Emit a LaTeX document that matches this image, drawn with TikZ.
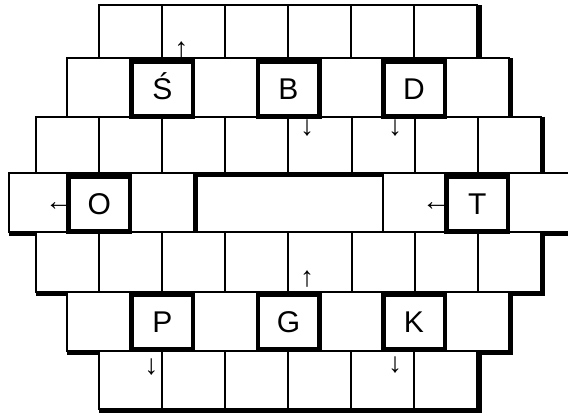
\documentclass[tikz,border=0pt]{standalone}
\usepackage{fontspec}
\setmainfont{Liberation Sans}
\usetikzlibrary{positioning}

\begin{document}
\begin{tikzpicture}[
  x=1pt, y=-1pt,
  cell/.style={line width=2pt},
  shade/.style={line width=4.5pt},
  letter/.style={draw, fill=white, line width=4.5pt,
                 minimum width=61.5pt, minimum height=55pt, inner sep=0pt,
                 font=\fontsize{30}{30}\selectfont,
                 text height=21.5pt, text depth=0pt},
  arr/.style={font=\fontsize{28}{28}\selectfont, inner sep=0pt}
]
\useasboundingbox (0,0) rectangle (568,415);
\clip (0,0) rectangle (568,415);

% full rows: left x / cells / top / bottom
\foreach \x/\n/\t/\b in {98.7/6/5/58.3, 67.3/7/58.3/116.5, 36/8/116.5/173,
                         36/8/232/291.5, 67.3/7/291.5/350.5, 98.7/6/350.5/408.5}
  \foreach \i in {1,...,\n}
    \draw[cell] ({\x+(\i-1)*63.1},\t) rectangle ++(63.1,\b-\t);

% middle row with the gap
\foreach \l/\r in {9/67.3, 130.4/193.5, 193.5/382.8, 382.8/445.9, 509/572}
  \draw[cell] (\l,173) rectangle (\r,232);

% shadow on the outer edge
\draw[shade] (479.3,5) -- (479.3,58.3);
\draw[shade] (511.2,58.3) -- (511.2,116.5);
\draw[shade] (543,116.5) -- (543,173);
\draw[shade] (572,234.2) -- (543,234.2) -- (543,293.7) -- (511.2,293.7)
  -- (511.2,352.7) -- (479.3,352.7) -- (479.3,410.7) -- (98.7,410.7);
\draw[shade] (98.7,352.7) -- (67.3,352.7);
\draw[shade] (67.3,293.7) -- (36,293.7);
\draw[shade] (36,234.2) -- (9,234.2);
% shadow inside the gap
\draw[shade] (195.7,232) -- (195.7,175.2) -- (382.8,175.2);

% letters
\node[letter] (S) at (162.3,89) {Ś};
\node[letter] (B) at (288.5,89) {B};
\node[letter] (D) at (414,89) {D};
\node[letter] (O) at (99.3,204) {O};
\node[letter] (T) at (477.3,204) {T};
\node[letter] (P) at (162.3,322) {P};
\node[letter] (G) at (288.5,322) {G};
\node[letter] (K) at (414,322) {K};

% little arrows
\node[arr, above=1pt of S, xshift=19pt] (arrS) {↑};
\node[arr, below=1pt of B, xshift=18.5pt] (arrB) {↓};
\node[arr, below=1pt of D, xshift=-19pt] (arrD) {↓};
\node[arr, left=-7pt of O, yshift=-3pt] (arrO) {←};
\node[arr, left=-6pt of T, yshift=-3pt] (arrT) {←};
\node[arr, above=5pt of G, xshift=18.5pt] (arrG) {↑};
\node[arr, below=7pt of P, xshift=-11pt] (arrP) {↓};
\node[arr, below=5pt of K, xshift=-19pt] (arrK) {↓};

\end{tikzpicture}
\end{document}
